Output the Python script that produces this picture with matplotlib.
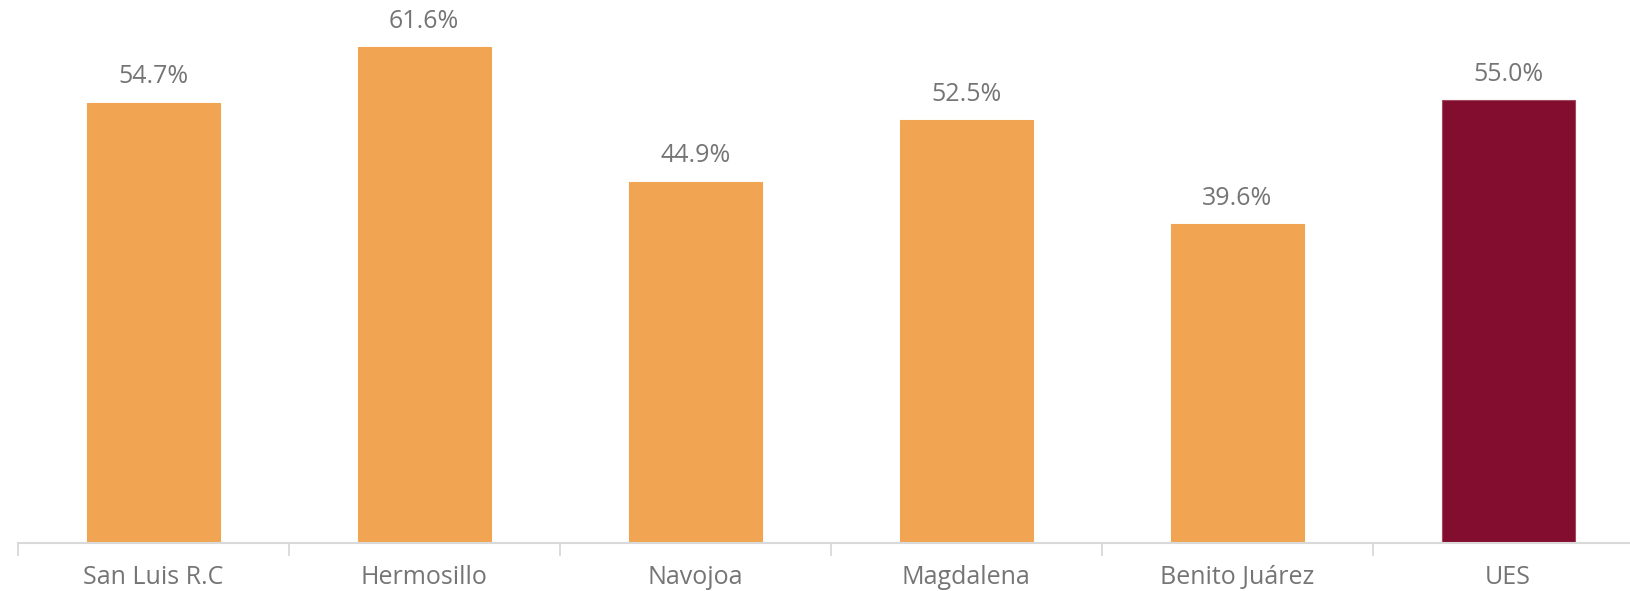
import matplotlib
matplotlib.use("Agg")
import matplotlib.pyplot as plt
import numpy as np

# Datos
campus = ["San Luis R.C", "Hermosillo", "Navojoa", "Magdalena", "Benito Juárez", "UES"]
valores = [54.7, 61.6, 44.9, 52.5, 39.6, 55.0]
colores = ["#F1A553"] * 5 + ["#820D2F"]

plt.rcParams['font.family'] = ['Open Sans', 'DejaVu Sans']
gris = "#757575"

fig = plt.figure(figsize=(16.30, 5.91), dpi=100)
# eje: base en y=543 px, inicio x=17.7 px, 271 px por categoria
ax = fig.add_axes([17.7 / 1630, (591 - 543) / 591, 6 * 271 / 1630, 543 / 591])

x = np.arange(len(campus))
barras = ax.bar(x, valores, width=0.49, color=colores, edgecolor=colores, linewidth=0.8)
barras[-1].set_edgecolor("#A04A5C")

for xi, v in zip(x, valores):
    ax.text(xi, v + 3.2, f"{v:.1f}%", ha="center", va="center", fontsize=18, color=gris)

ax.set_xlim(-0.5, 5.5)
ax.set_ylim(0, 67.45)
ax.set_yticks([])
ax.set_xticks(x)
ax.set_xticklabels(campus, fontsize=18, color=gris)
ax.set_xticks(np.arange(-0.5, 6.0, 1.0), minor=True)
ax.tick_params(axis="x", which="major", length=0, pad=16)
ax.tick_params(axis="x", which="minor", length=9, width=1.3, color="#D9D9D9")

for s in ["top", "right", "left"]:
    ax.spines[s].set_visible(False)
ax.spines["bottom"].set_color("#D9D9D9")
ax.spines["bottom"].set_linewidth(1.5)

fig.savefig("out.png", dpi=100)
